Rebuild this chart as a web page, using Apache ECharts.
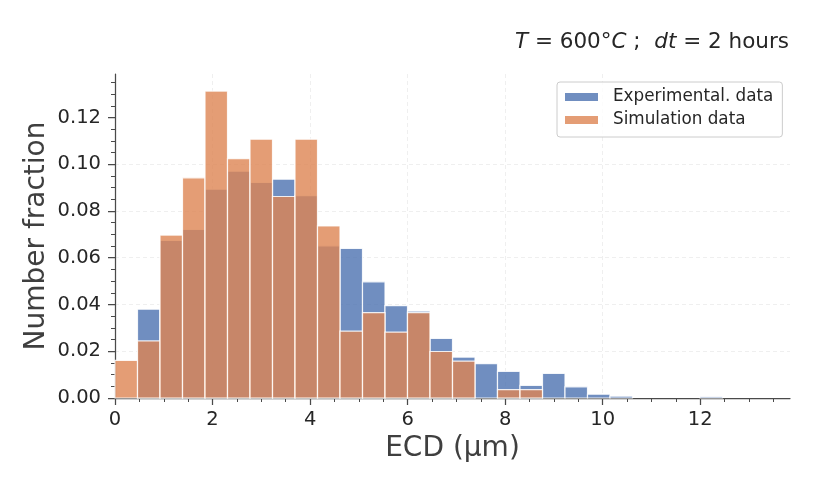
<!DOCTYPE html>
<html>
<head>
<meta charset="utf-8">
<script src="https://cdn.jsdelivr.net/npm/echarts@6/dist/echarts.min.js"></script>
<style>html,body{margin:0;padding:0;background:#fff;}#chart{width:814px;height:488px;}</style>
</head>
<body>
<div id="chart"></div>
<script>
// ---- data ----
const xRange = [0, 13.84];
const nBins = 30;
const experimental = [0, 0.0380, 0.0674, 0.0721, 0.0893, 0.0970, 0.0922, 0.0936, 0.0866, 0.0651,
  0.0640, 0.0497, 0.0395, 0.0372, 0.0255, 0.0175, 0.0147, 0.0114, 0.0054, 0.0105,
  0.0048, 0.0016, 0.0008, 0, 0, 0, 0.0006, 0, 0, 0];
const simulation = [0.0161, 0.0244, 0.0697, 0.0942, 0.1313, 0.1024, 0.1107, 0.0862, 0.1107, 0.0736,
  0.0286, 0.0365, 0.0282, 0.0365, 0.0199, 0.0158, 0, 0.0036, 0.0036, 0,
  0, 0, 0, 0, 0, 0, 0, 0, 0, 0];
const xTicks = [0, 2, 4, 6, 8, 10, 12];
const xMinorTicks = [0.5, 1, 1.5, 2.5, 3, 3.5, 4.5, 5, 5.5, 6.5, 7, 7.5, 8.5, 9, 9.5, 10.5, 11, 11.5, 12.5, 13, 13.5];
const yTicks = [0, 0.02, 0.04, 0.06, 0.08, 0.10, 0.12];
const yMinorTicks = [0.005, 0.01, 0.015, 0.025, 0.03, 0.035, 0.045, 0.05, 0.055, 0.065, 0.07, 0.075,
  0.085, 0.09, 0.095, 0.105, 0.11, 0.115, 0.125, 0.13, 0.135];
const yMax = 0.1386;
const seriesNames = ['Experimental. data', 'Simulation data'];

// ---- build ----
const binW = (xRange[1] - xRange[0]) / nBins;
function toBins(vals) {
  return vals.map((v, i) => [xRange[0] + i * binW, xRange[0] + (i + 1) * binW, v]);
}
const FONT = 'DejaVu Sans';
const AX = '#4a4a4a';
const chart = echarts.init(document.getElementById('chart'), null, {renderer: 'canvas'});

function makeRender(fill) {
  return function (params, api) {
    const v = api.value(2);
    if (!v) return null;
    const p0 = api.coord([api.value(0), v]);
    const p1 = api.coord([api.value(1), 0]);
    return {
      type: 'rect',
      shape: {x: p0[0], y: p0[1], width: p1[0] - p0[0], height: p1[1] - p0[1]},
      style: {fill: fill, stroke: 'rgba(255,255,255,0.85)', lineWidth: 1.2}
    };
  };
}
const blue = 'rgba(76,114,176,0.8)';
const orange = 'rgba(221,132,82,0.8)';

const option = {
  animation: false,
  backgroundColor: '#fff',
  title: {
    text: '{i|T} = 600°{i|C} ;  {i|dt} = 2 hours',
    right: 20, top: 26,
    textStyle: {
      fontFamily: FONT, fontSize: 21.5, fontWeight: 'normal', color: '#262626',
      rich: {i: {fontFamily: FONT, fontSize: 21.5, fontStyle: 'italic', color: '#262626'}}
    }
  },
  legend: {
    orient: 'vertical',
    left: 557, top: 82,
    data: seriesNames,
    icon: 'rect',
    itemWidth: 33, itemHeight: 8,
    itemGap: 3,
    padding: [5, 9, 7, 8],
    borderColor: '#cccccc', borderWidth: 1, borderRadius: 3,
    backgroundColor: 'rgba(255,255,255,0.8)',
    textStyle: {fontFamily: FONT, fontSize: 16.8, color: '#262626', lineHeight: 20, padding: [0, 0, 0, 10]}
  },
  grid: {left: 115, right: 24, top: 74, bottom: 90, containLabel: false},
  xAxis: [{
    type: 'value', min: xRange[0], max: xRange[1], interval: 2,
    name: 'ECD (μm)', nameLocation: 'middle', nameGap: 37, nameMoveOverlap: false,
    nameTextStyle: {fontFamily: FONT, fontSize: 28, color: '#3f3f3f'},
    axisLine: {show: true, onZero: false, lineStyle: {color: AX, width: 1.25}},
    axisTick: {show: true, length: 7, customValues: xTicks, lineStyle: {color: AX, width: 1.25}},
    axisLabel: {customValues: xTicks, fontFamily: FONT, fontSize: 19.5, color: '#262626', margin: 12},
    splitLine: {show: true, showMinLine: false, showMaxLine: false, lineStyle: {color: '#ebebeb', type: [4, 3], width: 0.8}}
  }, {
    type: 'value', min: xRange[0], max: xRange[1], position: 'bottom',
    axisLine: {show: false},
    axisTick: {show: true, length: 4, customValues: xMinorTicks, lineStyle: {color: AX, width: 1}},
    axisLabel: {show: false},
    splitLine: {show: false}
  }],
  yAxis: [{
    type: 'value', min: 0, max: yMax, interval: 0.02,
    name: 'Number fraction', nameLocation: 'middle', nameGap: 64, nameMoveOverlap: false,
    nameTextStyle: {fontFamily: FONT, fontSize: 28, color: '#3f3f3f'},
    axisLine: {show: true, onZero: false, lineStyle: {color: AX, width: 1.25}},
    axisTick: {show: true, length: 7, customValues: yTicks, lineStyle: {color: AX, width: 1.25}},
    axisLabel: {customValues: yTicks, fontFamily: FONT, fontSize: 19.5, color: '#262626', margin: 14,
      formatter: v => v.toFixed(2)},
    splitLine: {show: true, showMinLine: false, showMaxLine: false, lineStyle: {color: '#ebebeb', type: [4, 3], width: 0.8}}
  }, {
    type: 'value', min: 0, max: yMax, position: 'left',
    axisLine: {show: false},
    axisTick: {show: true, length: 4, customValues: yMinorTicks, lineStyle: {color: AX, width: 1}},
    axisLabel: {show: false},
    splitLine: {show: false}
  }],
  series: [{
    name: seriesNames[0], type: 'custom', xAxisIndex: 0, yAxisIndex: 0,
    itemStyle: {color: blue},
    renderItem: makeRender(blue),
    encode: {x: [0, 1], y: 2},
    data: toBins(experimental)
  }, {
    name: seriesNames[1], type: 'custom', xAxisIndex: 0, yAxisIndex: 0,
    itemStyle: {color: orange},
    renderItem: makeRender(orange),
    encode: {x: [0, 1], y: 2},
    data: toBins(simulation)
  }]
};
chart.setOption(option);
</script>
</body>
</html>
